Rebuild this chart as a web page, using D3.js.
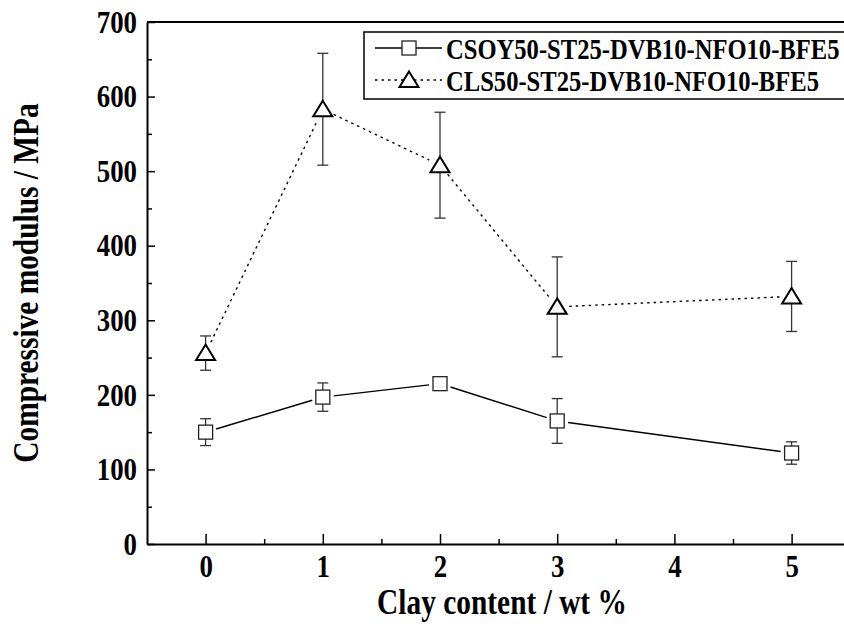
<!DOCTYPE html>
<html>
<head>
<meta charset="utf-8">
<script src="https://cdn.jsdelivr.net/npm/d3@7"></script>
<style>
  body { margin: 0; background: #fff; }
</style>
</head>
<body>
<div id="viz"></div>
<script>
// data
const clay = [0, 1, 2, 3, 5];
const csoy = [150, 197, 215, 165, 122];
const csoyErr = [18, 19, 4, 30, 15];
const cls = [256, 583, 508, 318, 332];
const clsErr = [23, 75, 71, 67, 47];
const seriesNames = ['CSOY50-ST25-DVB10-NFO10-BFE5', 'CLS50-ST25-DVB10-NFO10-BFE5'];
const xTicks = [0, 1, 2, 3, 4, 5];
const xMinor = [0.5, 1.5, 2.5, 3.5, 4.5];
const yTicks = [0, 100, 200, 300, 400, 500, 600, 700];
const yMinor = [50, 150, 250, 350, 450, 550, 650];

const width = 844, height = 626;
const plotLeft = 147, plotTop = 22, plotBottom = 544;
const serif = "'Liberation Serif', 'Times New Roman', 'DejaVu Serif', serif";
const squeeze = 0.84; // the original lettering is tall and narrow

const x = d3.scaleLinear().domain([-0.5, 5.5]).range([plotLeft, plotLeft + 6 * 117.2]);
const y = d3.scaleLinear().domain([0, 700]).range([plotBottom, plotTop]);

const svg = d3.select('#viz').append('svg')
  .attr('width', width)
  .attr('height', height)
  .style('font-family', serif)
  .style('font-weight', 'bold');

// axes (ticks point inward)
const gy = svg.append('g').attr('transform', `translate(${plotLeft},0)`)
  .call(d3.axisLeft(y).tickValues(yTicks).tickFormat(d3.format('d'))
    .tickSizeInner(-8).tickSizeOuter(0).tickPadding(10));
svg.append('g').attr('transform', `translate(${plotLeft},0)`)
  .call(d3.axisLeft(y).tickValues(yMinor).tickSizeInner(-5).tickSizeOuter(0).tickFormat(''))
  .select('.domain').remove();

const gx = svg.append('g').attr('transform', `translate(0,${plotBottom})`)
  .call(d3.axisBottom(x).tickValues(xTicks).tickFormat(d3.format('d'))
    .tickSizeInner(-10).tickSizeOuter(0).tickPadding(10));
svg.append('g').attr('transform', `translate(0,${plotBottom})`)
  .call(d3.axisBottom(x).tickValues(xMinor).tickSizeInner(-5).tickSizeOuter(0).tickFormat(''))
  .select('.domain').remove();

svg.selectAll('g').attr('font-family', null).attr('font-size', null);
svg.selectAll('.domain').attr('stroke', '#000').attr('stroke-width', 2);
svg.selectAll('.tick line').attr('stroke', '#000').attr('stroke-width', 1.5);
svg.selectAll('.tick text').style('font-size', '32px').attr('fill', '#000')
  .attr('transform', `scale(${squeeze},1)`);
gy.selectAll('.tick text').attr('x', -10 / squeeze);

// top frame line
svg.append('line')
  .attr('x1', plotLeft).attr('x2', width)
  .attr('y1', plotTop).attr('y2', plotTop)
  .attr('stroke', '#000').attr('stroke-width', 2);

// axis titles
svg.append('text')
  .attr('transform', `translate(502,614)scale(${squeeze},1)`)
  .attr('text-anchor', 'middle')
  .style('font-size', '35px')
  .text('Clay content / wt %');
svg.append('text')
  .attr('transform', `translate(38,${(plotTop + plotBottom) / 2})rotate(-90)scale(${squeeze},1)`)
  .attr('text-anchor', 'middle')
  .style('font-size', '35px')
  .text('Compressive modulus / MPa');

const series = [
  { vals: csoy, err: csoyErr, dash: null, sym: 'square', gap: 11 },
  { vals: cls, err: clsErr, dash: '2.5,4', sym: 'triangle', gap: 12 }
];

const plot = svg.append('g');

series.forEach(s => {
  const pts = clay.map((c, i) => ({ px: x(c), py: y(s.vals[i]), v: s.vals[i], e: s.err[i] }));

  // error bars
  pts.forEach(p => {
    const g = plot.append('g').attr('stroke', '#333').attr('stroke-width', 1.3);
    const yt = y(p.v + p.e), yb = y(p.v - p.e);
    g.append('line').attr('x1', p.px).attr('x2', p.px).attr('y1', yt).attr('y2', yb);
    g.append('line').attr('x1', p.px - 5.5).attr('x2', p.px + 5.5).attr('y1', yt).attr('y2', yt);
    g.append('line').attr('x1', p.px - 5.5).attr('x2', p.px + 5.5).attr('y1', yb).attr('y2', yb);
  });

  // connecting segments, stopping short of the symbols
  for (let i = 0; i < pts.length - 1; i++) {
    const a = pts[i], b = pts[i + 1];
    const dx = b.px - a.px, dy = b.py - a.py, L = Math.hypot(dx, dy);
    const ux = dx / L, uy = dy / L;
    plot.append('line')
      .attr('x1', a.px + ux * s.gap).attr('y1', a.py + uy * s.gap)
      .attr('x2', b.px - ux * s.gap).attr('y2', b.py - uy * s.gap)
      .attr('stroke', '#000').attr('stroke-width', 1.4)
      .attr('stroke-dasharray', s.dash);
  }

  // symbols
  pts.forEach(p => {
    if (s.sym === 'square') {
      plot.append('rect')
        .attr('x', p.px - 7).attr('y', p.py - 7)
        .attr('width', 14).attr('height', 14)
        .attr('fill', '#fff').attr('stroke', '#222').attr('stroke-width', 1.3);
    } else {
      plot.append('path')
        .attr('d', `M${p.px},${p.py - 8.5}L${p.px + 9.5},${p.py + 7}L${p.px - 9.5},${p.py + 7}Z`)
        .attr('fill', '#fff').attr('stroke', '#000').attr('stroke-width', 2);
    }
  });
});

// legend
const lg = svg.append('g');
lg.append('rect')
  .attr('x', 364).attr('y', 32).attr('width', 520).attr('height', 67)
  .attr('fill', '#fff').attr('stroke', '#000').attr('stroke-width', 1.5);

seriesNames.forEach((name, i) => {
  const s = series[i];
  const cy = 48 + i * 32;
  lg.append('line')
    .attr('x1', 375).attr('x2', 442).attr('y1', cy).attr('y2', cy)
    .attr('stroke', '#000').attr('stroke-width', 1.4)
    .attr('stroke-dasharray', s.dash);
  if (s.sym === 'square') {
    lg.append('rect')
      .attr('x', 402).attr('y', cy - 7).attr('width', 14).attr('height', 14)
      .attr('fill', '#fff').attr('stroke', '#222').attr('stroke-width', 1.3);
  } else {
    lg.append('path')
      .attr('d', `M409,${cy - 8.5}L418.5,${cy + 7}L399.5,${cy + 7}Z`)
      .attr('fill', '#fff').attr('stroke', '#000').attr('stroke-width', 2);
  }
  lg.append('text')
    .attr('transform', `translate(446,${cy})scale(0.82,1)`)
    .attr('dy', '0.35em')
    .style('font-size', '30px')
    .text(name);
});
</script>
</body>
</html>
